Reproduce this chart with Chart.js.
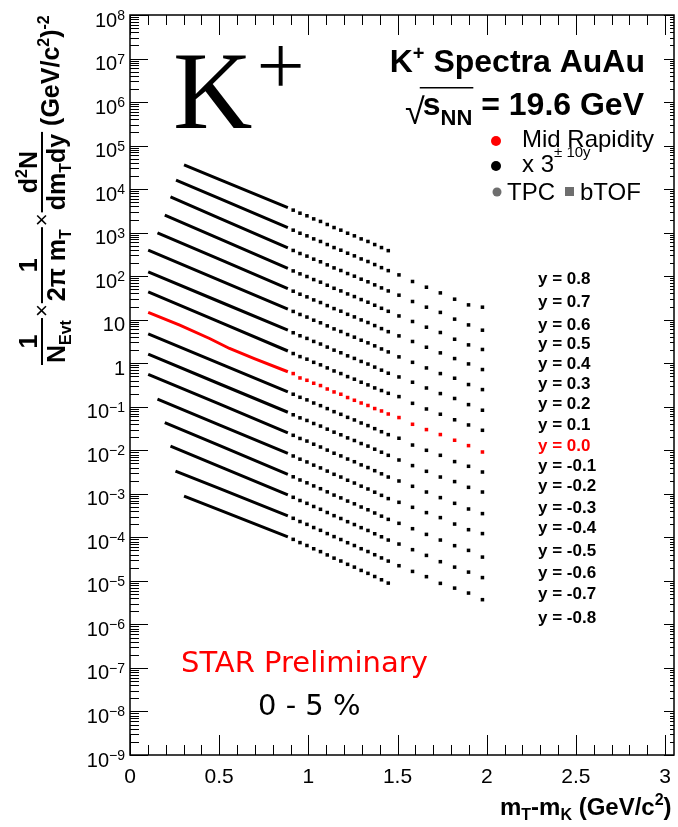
<!DOCTYPE html>
<html>
<head>
<meta charset="utf-8">
<script src="https://cdn.jsdelivr.net/npm/chart.js@4.4.0/dist/chart.umd.min.js"></script>
<style>
  html, body { margin: 0; padding: 0; background: #fff; }
  canvas { display: block; }
</style>
</head>
<body>
<canvas id="chart" width="678" height="827"></canvas>
<script>
// rapidity bins, top row first (each scaled by 3^(10y) in the figure)
const rapidity = [0.8, 0.7, 0.6, 0.5, 0.4, 0.3, 0.2, 0.1, 0.0, -0.1, -0.2, -0.3, -0.4, -0.5, -0.6, -0.7, -0.8]
const rapidityLabels = ["y = 0.8", "y = 0.7", "y = 0.6", "y = 0.5", "y = 0.4", "y = 0.3", "y = 0.2", "y = 0.1", "y = 0.0",
    "y = -0.1", "y = -0.2", "y = -0.3", "y = -0.4", "y = -0.5", "y = -0.6", "y = -0.7", "y = -0.8"]
const xTicks = [0, 0.5, 1, 1.5, 2, 2.5, 3]
const xTickLabels = ["0", "0.5", "1", "1.5", "2", "2.5", "3"]

// TPC part (dense, drawn as a thick line) : mT-mK and yield per rapidity row
const tpcX = [
    [0.303, 0.5, 0.885], [0.258, 0.5, 0.885], [0.227, 0.5, 0.885], [0.195, 0.5, 0.885],
    [0.154, 0.5, 0.885], [0.102, 0.5, 0.885], [0.102, 0.5, 0.885], [0.102, 0.5, 0.885],
    [0.102, 0.279, 0.446, 0.558, 0.697, 0.885],
    [0.102, 0.5, 0.885], [0.102, 0.5, 0.885], [0.102, 0.5, 0.885], [0.154, 0.5, 0.885],
    [0.195, 0.5, 0.885], [0.227, 0.5, 0.885], [0.255, 0.5, 0.885], [0.303, 0.5, 0.885]
]
const tpcYield = [
    [3.62e4, 1.68e4, 3.76e3], [1.61e4, 6.11e3, 1.30e3], [6.65e3, 2.17e3, 445], [2.52e3, 728, 151],
    [989, 245, 51.6], [396, 81.3, 17.6], [126, 26.2, 5.74], [43.6, 8.90, 1.91],
    [14.7, 7.5, 3.7, 2.18, 1.28, 0.638],
    [4.72, 0.995, 0.221], [1.61, 0.338, 0.0748], [0.558, 0.116, 0.0252], [0.149, 0.0384, 0.00853],
    [0.0434, 0.0129, 0.00281], [0.0124, 0.00427, 9.48e-4], [0.00334, 0.00133, 3.12e-4], [8.89e-4, 4.29e-4, 1.03e-4]
]

// bTOF part (square markers)
const tofX = [0.915, 0.953, 0.992, 1.030, 1.068, 1.106, 1.144, 1.182, 1.220, 1.258, 1.296, 1.334, 1.372, 1.410, 1.448,
    1.508, 1.584, 1.662, 1.740, 1.820, 1.898, 1.976]
const tofYield = [
    [3290, 2800, 2440, 2070, 1810, 1540, 1310, 1140, 970, 845, 719, 627, 533, 454, 386],
    [1140, 970, 845, 719, 627, 533, 454, 395, 337, 293, 249, 217, 185, 157, 134, 107, 75.5, 55.8, 41.3, 29.6, 21.9, 19.4],
    [390, 332, 289, 246, 214, 182, 155, 135, 115, 100, 85.3, 74.3, 63.2, 53.8, 45.8, 36.6, 26.2, 19.4, 14.7, 10.3, 7.59, 5.74],
    [132, 113, 98.2, 83.6, 72.8, 61.9, 52.7, 45.9, 39.1, 34.0, 29.0, 25.2, 21.5, 18.3, 15.6, 12.2, 9.10, 6.73, 5.08, 3.56, 2.64, 2.07],
    [45.2, 38.5, 33.5, 28.5, 24.8, 21.1, 18.0, 15.7, 13.3, 11.6, 9.89, 8.61, 7.33, 6.24, 5.31, 4.25, 3.16, 2.33, 1.73, 1.28, 0.964, 0.716],
    [15.5, 13.2, 11.5, 9.75, 8.49, 7.23, 6.15, 5.36, 4.56, 3.97, 3.38, 2.94, 2.51, 2.13, 1.82, 1.40, 1.05, 0.780, 0.579, 0.452, 0.324, 0.248],
    [5.02, 4.28, 3.72, 3.17, 2.76, 2.35, 2.00, 1.74, 1.48, 1.29, 1.10, 0.957, 0.815, 0.693, 0.590, 0.484, 0.366, 0.270, 0.201, 0.155, 0.112, 0.0832],
    [1.67, 1.42, 1.24, 1.05, 0.918, 0.782, 0.665, 0.579, 0.493, 0.430, 0.366, 0.318, 0.271, 0.236, 0.204, 0.171, 0.120, 0.0889, 0.0673, 0.0502, 0.0382, 0.0288],
    [0.579, 0.459, 0.406, 0.347, 0.307, 0.256, 0.219, 0.194, 0.163, 0.141, 0.122, 0.107, 0.0910, 0.0800, 0.0682, 0.0565, 0.0396, 0.0299, 0.0230, 0.0170, 0.0128, 0.00914],
    [0.194, 0.165, 0.144, 0.122, 0.106, 0.0906, 0.0771, 0.0671, 0.0571, 0.0498, 0.0424, 0.0369, 0.0314, 0.0267, 0.0229, 0.0189, 0.0132, 0.0100, 0.00767, 0.00550, 0.00429, 0.00317],
    [0.0655, 0.0557, 0.0485, 0.0413, 0.0360, 0.0306, 0.0261, 0.0227, 0.0193, 0.0168, 0.0143, 0.0125, 0.0106, 0.00904, 0.00767, 0.00598, 0.00445, 0.00329, 0.00243, 0.00191, 0.00141, 0.00110],
    [0.0221, 0.0187, 0.0163, 0.0138, 0.0119, 0.0101, 0.00857, 0.00743, 0.00630, 0.00546, 0.00462, 0.00401, 0.00340, 0.00288, 0.00243, 0.00197, 0.00149, 0.00110, 8.18e-4, 6.05e-4, 4.48e-4, 3.51e-4],
    [7.40e-3, 6.25e-3, 5.40e-3, 4.56e-3, 3.94e-3, 3.33e-3, 2.81e-3, 2.43e-3, 2.05e-3, 1.77e-3, 1.50e-3, 1.29e-3, 1.09e-3, 9.23e-4, 7.76e-4, 6.38e-4, 4.90e-4, 3.70e-4, 2.84e-4, 2.02e-4, 1.50e-4, 1.22e-4],
    [2.46e-3, 2.08e-3, 1.79e-3, 1.52e-3, 1.31e-3, 1.11e-3, 9.35e-4, 8.07e-4, 6.82e-4, 5.89e-4, 4.98e-4, 4.30e-4, 3.63e-4, 3.07e-4, 2.59e-4, 2.10e-4, 1.58e-4, 1.17e-4, 8.67e-5, 6.44e-5, 5.02e-5, 3.52e-5],
    [8.32e-4, 7.03e-4, 6.05e-4, 5.12e-4, 4.41e-4, 3.72e-4, 3.15e-4, 2.71e-4, 2.29e-4, 1.97e-4, 1.67e-4, 1.44e-4, 1.21e-4, 1.03e-4, 8.67e-5, 7.01e-5, 5.21e-5, 3.85e-5, 2.76e-5, 2.07e-5, 1.59e-5, 1.19e-5],
    [2.74e-4, 2.31e-4, 1.99e-4, 1.68e-4, 1.45e-4, 1.22e-4, 1.04e-4, 8.91e-5, 7.53e-5, 6.49e-5, 5.48e-5, 4.72e-5, 3.99e-5, 3.37e-5, 2.85e-5, 2.23e-5, 1.65e-5, 1.25e-5, 8.77e-6, 6.82e-6, 5.25e-6, 3.70e-6],
    [8.99e-5, 7.57e-5, 6.50e-5, 5.47e-5, 4.70e-5, 3.95e-5, 3.33e-5, 2.86e-5, 2.40e-5, 2.07e-5, 1.74e-5, 1.49e-5, 1.26e-5, 1.06e-5, 8.89e-6]
]

const SANS = '"Liberation Sans", Arial, sans-serif'
const rowColor = y => (y === 0 ? '#ff0000' : '#000000')

const datasets = []
rapidity.forEach((y, i) => {
    datasets.push({
        label: 'TPC ' + rapidityLabels[i],
        data: tpcX[i].map((x, j) => ({ x: x, y: tpcYield[i][j] })),
        showLine: true,
        borderColor: rowColor(y),
        borderWidth: 3,
        pointRadius: 0,
        order: y === 0 ? 0 : 1
    })
    datasets.push({
        label: 'bTOF ' + rapidityLabels[i],
        data: tofYield[i].map((v, j) => ({ x: tofX[j], y: v })),
        showLine: false,
        pointStyle: 'rect',
        pointRadius: 2.5,
        borderWidth: 0,
        backgroundColor: rowColor(y),
        order: y === 0 ? 0 : 1
    })
})

// draws text pieces one after another, returns total width
function rich(ctx, parts, x, y, draw = true) {
    let w = 0
    for (const p of parts) {
        ctx.font = p.f
        if (draw) ctx.fillText(p.t, x + w, y + (p.dy || 0))
        w += ctx.measureText(p.t).width
    }
    return w
}

const decor = {
    id: 'decor',
    afterDatasetsDraw(chart) {
        const { ctx, chartArea: a, scales: { x, y } } = chart
        ctx.save()
        ctx.strokeStyle = '#000'
        ctx.fillStyle = '#000'

        // ticks, ROOT style (inside the frame)
        ctx.lineWidth = 1
        ctx.beginPath()
        for (let i = 0; i <= 30; i++) {
            const px = Math.round(x.getPixelForValue(i / 10)) + 0.5
            const len = i % 5 === 0 ? 20 : 10
            ctx.moveTo(px, a.bottom); ctx.lineTo(px, a.bottom - len)
            ctx.moveTo(px, a.top); ctx.lineTo(px, a.top + len)
        }
        for (let k = -9; k <= 8; k++) {
            const py = Math.round(y.getPixelForValue(Math.pow(10, k))) + 0.5
            ctx.moveTo(a.left, py); ctx.lineTo(a.left + 18, py)
            ctx.moveTo(a.right, py); ctx.lineTo(a.right - 10, py)
            if (k < 8) {
                for (let m = 2; m <= 9; m++) {
                    const q = Math.round(y.getPixelForValue(m * Math.pow(10, k))) + 0.5
                    ctx.moveTo(a.left, q); ctx.lineTo(a.left + 9, q)
                    ctx.moveTo(a.right, q); ctx.lineTo(a.right - 4, q)
                }
            }
        }
        ctx.stroke()
        ctx.lineWidth = 1.5
        ctx.strokeRect(a.left, a.top, a.right - a.left, a.bottom - a.top)

        // y tick labels 10^k
        ctx.textBaseline = 'alphabetic'
        for (let k = -9; k <= 8; k++) {
            const py = y.getPixelForValue(Math.pow(10, k))
            if (k === 0 || k === 1) {
                ctx.font = '20px ' + SANS
                ctx.textAlign = 'right'
                ctx.fillText(k === 0 ? '1' : '10', 125, py + 11.5)
                ctx.textAlign = 'left'
                continue
            }
            const exp = k < 0 ? '\u2212' + (-k) : String(k)
            ctx.font = '14px ' + SANS
            const we = ctx.measureText(exp).width
            ctx.fillText(exp, 125 - we, py + 5)
            ctx.font = '20px ' + SANS
            const wb = ctx.measureText('10').width
            ctx.fillText('10', 125 - we - wb, py + 11.5)
        }

        // x tick labels
        ctx.font = '21px ' + SANS
        ctx.textAlign = 'center'
        xTicks.forEach((v, i) => ctx.fillText(xTickLabels[i], x.getPixelForValue(v), 783))
        ctx.textAlign = 'left'

        // x title
        const XB = 'bold 24px ' + SANS, XS = 'bold 16px ' + SANS
        rich(ctx, [
            { t: 'm', f: XB }, { t: 'T', f: XS, dy: 5 }, { t: '-m', f: XB }, { t: 'K', f: XS, dy: 5 },
            { t: ' (GeV/c', f: XB }, { t: '2', f: XS, dy: -10 }, { t: ')', f: XB }
        ], 500, 815)

        // y title, rotated
        ctx.save()
        ctx.translate(42, 365)
        ctx.rotate(-Math.PI / 2)
        const B = 'bold 25px ' + SANS, S = 'bold 16px ' + SANS
        let u = 0
        const frac = (num, den) => {
            const wn = rich(ctx, num, 0, 0, false), wd = rich(ctx, den, 0, 0, false)
            const w = Math.max(wn, wd) + 4
            rich(ctx, num, u + (w - wn) / 2, -5)
            rich(ctx, den, u + (w - wd) / 2, 23)
            ctx.fillRect(u, -1, w, 2)
            u += w
        }
        const times = () => {
            ctx.font = '22px ' + SANS
            ctx.fillText('\u00d7', u + 1, 7)
            u += ctx.measureText('\u00d7').width + 2
        }
        frac([{ t: '1', f: B }], [{ t: 'N', f: B }, { t: 'Evt', f: S, dy: 6 }])
        times()
        frac([{ t: '1', f: B }], [{ t: '2\u03c0 m', f: B }, { t: 'T', f: S, dy: 6 }])
        times()
        frac([{ t: 'd', f: B }, { t: '2', f: S, dy: -10 }, { t: 'N', f: B }],
            [{ t: 'dm', f: B }, { t: 'T', f: S, dy: 6 }, { t: 'dy', f: B }])
        u += 6
        rich(ctx, [{ t: '(GeV/c', f: B }, { t: '2', f: S, dy: -10 }, { t: ')', f: B }, { t: '-2', f: S, dy: -10 }], u, 17)
        ctx.restore()

        // big K+
        ctx.font = '110px "Liberation Serif", serif'
        ctx.fillText('K', 173, 128)
        ctx.font = '200 92px Inter, "Liberation Serif", serif'
        ctx.fillText('+', 251, 92)

        // header
        const H = 'bold 32px ' + SANS, HS = 'bold 20px ' + SANS
        const head = [{ t: 'K', f: H }, { t: '+', f: HS, dy: -12 }, { t: ' Spectra AuAu', f: H }]
        rich(ctx, head, 645 - rich(ctx, head, 0, 0, false), 72)
        const energy = [{ t: 's', f: H }, { t: 'NN', f: 'bold 22px ' + SANS, dy: 10 }, { t: ' = 19.6 GeV', f: H }]
        const we = rich(ctx, energy, 0, 0, false)
        const ex = 644 - we
        rich(ctx, energy, ex, 115)
        ctx.font = '36px ' + SANS
        const rw = ctx.measureText('\u221a').width
        ctx.fillText('\u221a', ex - rw + 2, 124)
        const sw = rich(ctx, energy.slice(0, 2), 0, 0, false)
        ctx.fillRect(ex - 3, 87, sw + 4, 1.5)

        // legend
        ctx.fillStyle = '#ff0000'
        ctx.beginPath(); ctx.arc(496, 141, 5, 0, 2 * Math.PI); ctx.fill()
        ctx.fillStyle = '#000'
        ctx.beginPath(); ctx.arc(496, 166, 5, 0, 2 * Math.PI); ctx.fill()
        ctx.fillStyle = '#6e6e6e'
        ctx.beginPath(); ctx.arc(497, 192, 4.5, 0, 2 * Math.PI); ctx.fill()
        ctx.fillRect(565, 187, 9, 9)
        ctx.fillStyle = '#000'
        const L = '24px ' + SANS
        rich(ctx, [{ t: 'Mid Rapidity', f: L }], 522, 147)
        rich(ctx, [{ t: 'x 3', f: L }, { t: '\u00b1 10y', f: '15px ' + SANS, dy: -15 }], 522, 172)
        rich(ctx, [{ t: 'TPC', f: L }], 507, 200)
        rich(ctx, [{ t: 'bTOF', f: L }], 580, 200)

        // rapidity labels
        const labelMid = [278, 301, 324, 343, 363, 383, 403, 424, 445, 465, 485, 507, 527, 550, 572, 593, 617]
        ctx.font = 'bold 17px ' + SANS
        rapidity.forEach((r, i) => {
            ctx.fillStyle = rowColor(r)
            ctx.fillText(rapidityLabels[i], 538, labelMid[i] + 6)
        })

        // STAR preliminary / centrality
        ctx.font = '29px "DejaVu Sans", sans-serif'
        ctx.fillStyle = '#ff0000'
        ctx.fillText('STAR Preliminary', 181, 672)
        ctx.fillStyle = '#000'
        ctx.fillText('0 - 5 %', 258, 715)
        ctx.restore()
    }
}

new Chart(document.getElementById('chart'), {
    type: 'scatter',
    data: { datasets: datasets },
    options: {
        responsive: false,
        animation: false,
        events: [],
        layout: { padding: { left: 130, right: 1, top: 15, bottom: 72 } },
        plugins: { legend: { display: false }, tooltip: { enabled: false } },
        scales: {
            x: { type: 'linear', min: 0, max: 3.05, display: false },
            y: { type: 'logarithmic', min: 1e-9, max: 1e8, display: false }
        }
    },
    plugins: [decor]
})
</script>
</body>
</html>
